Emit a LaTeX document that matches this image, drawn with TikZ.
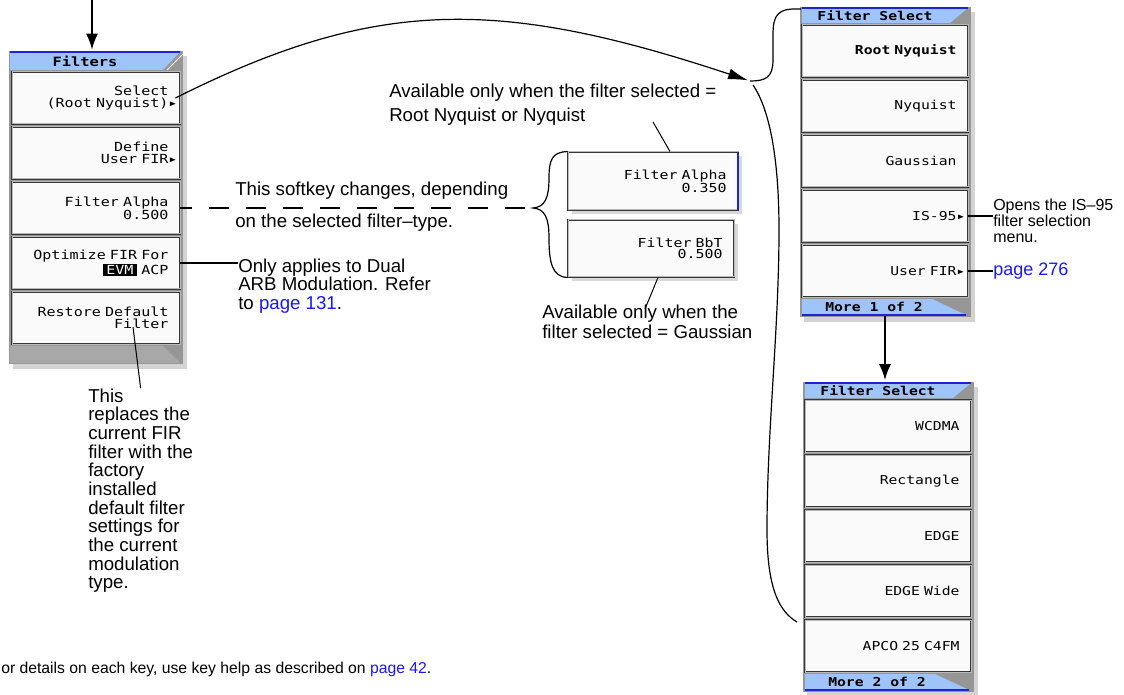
\documentclass[tikz,border=0pt]{standalone}
\usepackage{fontspec}
\setmainfont{Liberation Sans}
\newfontfamily\keyfont[FakeStretch=1.2]{DejaVu Sans Mono}
\newcommand\keysize[2]{\keyfont\fontsize{#1}{#2}\selectfont\spaceskip=0.7224em\relax}
\usetikzlibrary{arrows.meta,shadows}
\newdimen\px \px=0.75pt
\definecolor{barblue}{RGB}{158,196,250}
\definecolor{barline}{RGB}{28,36,214}
\definecolor{panelgray}{RGB}{150,150,150}
\definecolor{bottomgray}{RGB}{168,168,168}
\definecolor{keyedge}{RGB}{55,55,55}
\definecolor{keyfill}{RGB}{250,250,250}
\definecolor{linkblue}{RGB}{24,24,255}

\begin{document}
\begin{tikzpicture}[x=0.75pt, y=-0.75pt, font=\fontsize{14}{14}\selectfont]
  \tikzset{
    panel/.style={fill=panelgray, drop shadow={shadow xshift=4\px, shadow yshift=-5\px, opacity=0.35}},
    softkey/.style={rectangle, draw=keyedge, line width=0.9\px, double=gray!55, double distance=1\px,
                    fill=keyfill, inner xsep=11.5\px, inner ysep=0pt, align=right},
    leftkey/.style={softkey, minimum height=52\px, text width=145\px, font=\keysize{9.4}{8.6}},
    selkey/.style={softkey, minimum height=52\px, text width=143\px, font=\keysize{9.2}{8}},
    bartext/.style={inner sep=0pt, minimum height=16\px, font=\bfseries\keysize{9.2}{8}},
    note/.style={inner sep=0pt, align=left, anchor=base west}, % base = last line
    pointer/.style={line width=1\px},
    lead/.style={line width=2\px},
    bigarrow/.style={line width=2\px, -{Latex[length=12pt, width=9pt]}}
  }
  \useasboundingbox (0,0) rectangle (1124,695);

  % ---- Filters menu ----
  \path[panel] (9,51) rectangle (183,364);
  \fill[barblue] (10,52) -- (180,52) -- (163,70) -- (10,70) -- cycle;
  \draw[barline, line width=2\px] (10,52) -- (180,52);
  \draw[white, line width=1\px] (183,54) -- (167,70);
  \node[bartext, font=\bfseries\keysize{9.6}{8}] (ftitle) at (85,61) {Filters};
  \foreach \i/\y/\t in {1/98/{Select\\(Root Nyquist)\rlap{▸}}, 2/153/{Define\\User FIR\rlap{▸}},
                        3/208/{Filter Alpha\\0.500},
                        4/263/{Optimize FIR For\\{\fboxsep=1.2pt\colorbox{black}{\textcolor{white}{\,EVM\,}}} ACP},
                        5/318/{Restore Default\\Filter}} {
    \node[leftkey] (f\i) at (96,\y) {\t};
  }
  \fill[bottomgray] (10,346) -- (163,346) -- (180,363) -- (10,363) -- cycle;

  % ---- Filter Select, pages 1 and 2 ----
  \foreach \pg/\dx/\dy in {1/0/0, 2/3/375} {
    \begin{scope}[shift={(\dx,\dy)}]
      \path[panel] (800,7) rectangle (971,317);
      \fill[barblue] (802,8) -- (968,8) -- (950,23) -- (802,23) -- cycle;
      \draw[barline, line width=1.5\px] (802,8) -- (968,8);
      \fill[barblue] (802,299) -- (932,299) -- (966,315) -- (802,315) -- cycle;
      \draw[barline, line width=2\px] (802,315) -- (966,315);
      \node[bartext] (ts\pg) at (875,15.5) {Filter Select};
      \node[bartext] (more\pg) at (874,307) {More \pg\ of 2};
    \end{scope}
  }
  \foreach \i/\y/\t in {1/51/{\bfseries Root Nyquist}, 2/106/Nyquist, 3/161/Gaussian,
                        4/216/{IS-95\rlap{▸}}, 5/271/{User FIR\rlap{▸}}} {
    \node[selkey] (s\i) at (885,\y) {\t};
  }
  \foreach \i/\y/\t in {1/426/WCDMA, 2/481/Rectangle, 3/536/EDGE, 4/591/EDGE Wide, 5/646/APCO 25 C4FM} {
    \node[selkey] (w\i) at (888,\y) {\t};
  }

  % ---- alternative softkeys ----
  \node[softkey, drop shadow={opacity=0.3}, minimum height=58\px, text width=147\px,
        font=\keysize{9.3}{8.6}] (alpha) at (653,181) {Filter Alpha\\0.350};
  \draw[barline, line width=2\px] (alpha.north east) -- (alpha.south east);
  \node[softkey, drop shadow={opacity=0.3}, minimum height=57\px, text width=143\px,
        font=\keysize{9.3}{8.6}] (bbt) at (651,248.5) {Filter BbT\\0.500};

  % ---- notes ----
  \node[note, font=\fontsize{14}{18}\selectfont] (alphanote) at (389,122) {Available only when the filter selected =\\Root Nyquist or Nyquist};
  \node[note, font=\fontsize{14}{24}\selectfont] (changenote) at (235,228) {This softkey changes, depending\\on the selected filter--type.};
  \node[note] (arbnote) at (238,309.5) {Only applies to Dual\\ARB Modulation. Refer\\to \textcolor{linkblue}{page 131}.};
  \node[note, font=\fontsize{14}{14.3}\selectfont] (bbtnote) at (542,338) {Available only when the\\filter selected = Gaussian};
  \node[note] (restorenote) at (88,588.7) {This\\replaces the\\current FIR\\filter with the\\factory\\installed\\default filter\\settings for\\the current\\modulation\\type.};
  \node[note, font=\fontsize{12}{12}\selectfont] (isnote) at (993,243) {Opens the IS--95\\filter selection\\menu.};
  \node[note, font=\fontsize{13.5}{13.5}\selectfont, text=linkblue] (firnote) at (993,276) {page 276};
  \node[note, font=\fontsize{11.8}{14}\selectfont] (helpnote) at (1,673) {or details on each key, use key help as described on \textcolor{linkblue}{page 42}.};

  % ---- connectors ----
  \coordinate (enter) at (92,0);
  \draw[bigarrow, shorten >=2.25pt] (enter) -- (enter |- ftitle.north);
  \coordinate (pagedown) at (885,316);
  \draw[bigarrow, shorten >=1.5pt] (pagedown) -- (pagedown |- ts2.north);
  \coordinate (braceTip) at (750,81);
  \coordinate (braceTop) at (801,9);
  \coordinate (braceBot) at (797,622);
  \draw[line width=1.2\px, -{Latex[length=15pt, width=8.25pt]}, shorten >=1.5pt]
    ([xshift=-5\px]f1.east) .. controls (375,-2) and (497,-3) .. (braceTip);
  \draw[line width=1.2\px] (braceTop) .. controls (778,8) and (773,14) .. (773,35) -- (773,60)
    .. controls (773,78) and (765,81) .. (braceTip);
  \draw[line width=1.2\px] (753,85) .. controls (770,110) and (779,160) .. (779,230)
    .. controls (779,330) and (767,430) .. (767,530) .. controls (767,590) and (780,612) .. (braceBot);
  \coordinate (altTip) at (533,208);
  \draw[line width=1.2\px] (alpha.north west) .. controls (552,152) and (549,160) .. (549,178)
    .. controls (549,198) and (545,207) .. (altTip) .. controls (545,209) and (549,218) .. (549,238)
    .. controls (549,262) and (552,277) .. (bbt.south west);
  \draw[lead, dash pattern=on 15pt off 12.75pt, dash phase=6pt] (f3.east) -- (altTip);
  \draw[lead] (f4.east) -- (f4.east -| arbnote.west);
  \draw[lead] (s4.east) -- (s4.east -| isnote.west);
  \draw[lead] (s5.east) -- (s5.east -| firnote.west);
  \coordinate (alphaFrom) at (653,122);
  \draw[pointer] (alphaFrom) -- ([xshift=17\px]alpha.north);
  \coordinate (bbtTo) at (645,309);
  \draw[pointer] ([xshift=7\px]bbt.south) -- (bbtTo);
  \coordinate (restoreFrom) at (133,327);
  \draw[pointer] (restoreFrom) -- (restorenote.north);
\end{tikzpicture}
\end{document}
